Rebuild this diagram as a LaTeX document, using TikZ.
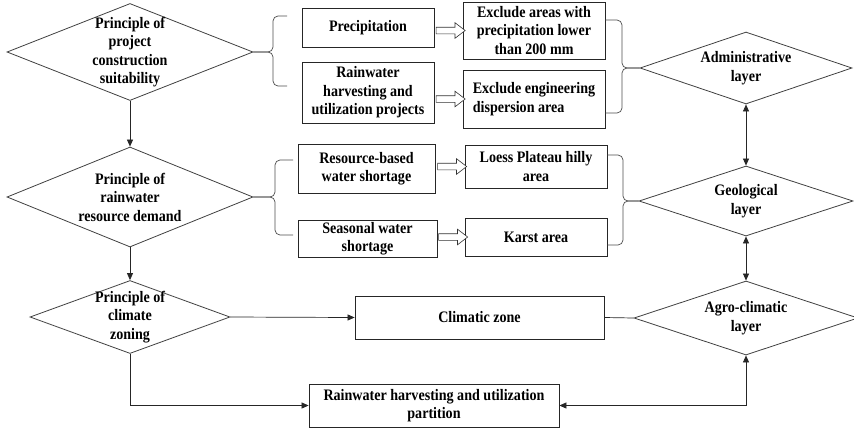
\documentclass[tikz,border=0pt]{standalone}
\usepackage{fontspec}
\setmainfont[FakeStretch=0.88]{Liberation Serif}
\usetikzlibrary{shapes.geometric,shapes.arrows,arrows.meta}

\tikzset{
  every node/.style={font=\fontsize{16}{18.5}\selectfont\bfseries},
  principle/.style={diamond, draw=black!75, line width=0.8pt, inner sep=0pt},
  item/.style={draw=black!85, line width=0.8pt, inner sep=2pt, align=center},
  fat/.style={single arrow, draw=black!80, line width=0.6pt, fill=white, inner sep=3pt,
    minimum height=29pt, single arrow head extend=4.5pt, single arrow tip angle=75},
  link/.style={draw=black!85, line width=0.7pt},
  tip/.style={-{Triangle[length=7pt,width=6pt]}},
  brace/.style={draw=black!70, line width=0.7pt, rounded corners=5pt}
}

\begin{document}
\begin{tikzpicture}[x=1pt,y=-1pt]
    \useasboundingbox (0,0) rectangle (854,429);

    % Principles (left)
    \node[principle, minimum width=246pt, minimum height=97pt,
      label={[align=center]center:Principle of\\project\\construction\\suitability}] (suit) at (130,52) {};
    \node[principle, minimum width=246pt, minimum height=100pt,
      label={[align=center]center:Principle of\\rainwater\\resource demand}] (demand) at (130,197) {};
    \node[principle, minimum width=200pt, minimum height=73pt,
      label={[align=center]center:Principle of\\climate\\zoning}] (zoning) at (130,317) {};

    % Layers (right)
    \node[principle, minimum width=212pt, minimum height=72pt,
      label={[align=center]center:Administrative\\layer}] (admin) at (746,68) {};
    \node[principle, minimum width=214pt, minimum height=70pt,
      label={[align=center]center:Geological\\layer}] (geo) at (746,201) {};
    \node[principle, minimum width=224pt, minimum height=74pt,
      label={[align=center]center:Agro-climatic\\layer}] (agro) at (746,318) {};

    % Factors
    \node[item, minimum width=132pt, minimum height=39pt] (prec) at (368,27.5) {Precipitation};
    \node[item, minimum width=132pt, minimum height=61pt] (proj) at (368,92.5) {Rainwater\\harvesting and\\utilization projects};
    \node[item, minimum width=137pt, minimum height=49pt] (resource) at (366.5,168.5) {Resource-based\\water shortage};
    \node[item, minimum width=139pt, minimum height=37pt] (seasonal) at (367.5,238.5) {Seasonal water\\shortage};

    % Areas
    \node[item, minimum width=142pt, minimum height=57pt] (low) at (534,30.5) {Exclude areas with\\precipitation lower\\than 200 mm};
    \node[item, align=left, minimum width=142pt, minimum height=58pt] (disp) at (534,99) {Exclude engineering\\dispersion area};
    \node[item, minimum width=142pt, minimum height=43pt] (loess) at (536,166.5) {Loess Plateau hilly\\area};
    \node[item, minimum width=142pt, minimum height=38pt] (karst) at (536,237) {Karst area};

    % Zones
    \node[item, minimum width=249pt, minimum height=43pt] (climzone) at (479.5,317.5) {Climatic zone};
    \node[item, minimum width=250pt, minimum height=43pt] (partition) at (434,405.5) {Rainwater harvesting and utilization\\partition};

    % Hollow arrows
    \path (prec.east |- low.west) -- (low.west) node[fat, midway] (a1) {};
    \path (proj.east |- disp.west) -- (disp.west) node[fat, midway] (a2) {};
    \path (resource.east |- loess.west) -- (loess.west) node[fat, midway] (a3) {};
    \path (seasonal.east |- karst.west) -- (karst.west) node[fat, midway] (a4) {};

    % Braces
    \draw[brace] (287,16) -- (273,16) -- (273,52) -- (suit.east);
    \draw[brace] (287,86) -- (273,86) -- (273,52) -- (suit.east);
    \draw[brace] (293,160) -- (275,160) -- (275,197) -- (demand.east);
    \draw[brace] (293,235) -- (275,235) -- (275,197) -- (demand.east);
    \draw[brace] (low.east |- 0,20) -- (622,20) -- (622,68) -- (admin.west);
    \draw[brace] (disp.east |- 0,113) -- (622,113) -- (622,68) -- (admin.west);
    \draw[brace] (loess.east |- 0,155) -- (623,155) -- (623,201) -- (geo.west);
    \draw[brace] (karst.east |- 0,245) -- (623,245) -- (623,201) -- (geo.west);

    % Connections
    \draw[link, tip] (suit) -- (demand);
    \draw[link, tip] (demand) -- (zoning);
    \draw[link, tip] (zoning.east) -- (climzone.west);
    \draw[link] (climzone.east) -- (agro.west);
    \draw[link, tip] (zoning.south) |- (partition.west);
    \draw[link, {Triangle[length=7pt,width=6pt]}-{Triangle[length=7pt,width=6pt]}] (partition.east) -| (agro.south);
    \draw[link, {Triangle[length=7pt,width=6pt]}-{Triangle[length=7pt,width=6pt]}] (admin.south) -- (geo.north);
    \draw[link, {Triangle[length=7pt,width=6pt]}-{Triangle[length=7pt,width=6pt]}] (geo.south) -- (agro.north);
\end{tikzpicture}
\end{document}
